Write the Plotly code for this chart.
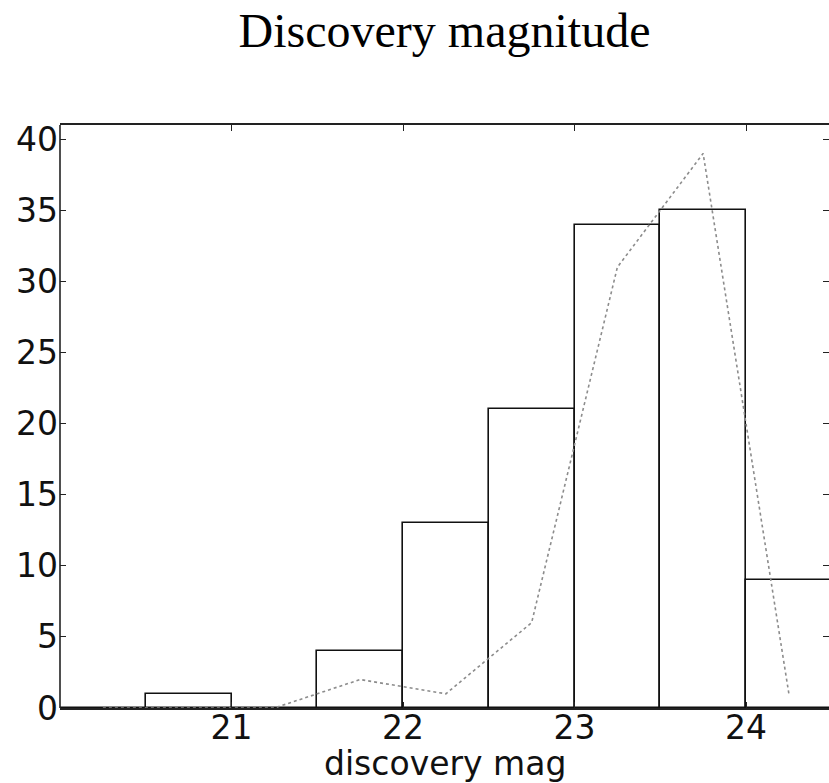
import plotly.graph_objects as go

# Histogram of discovery magnitudes (bins of 0.5 mag)
bin_left = [20.0, 20.5, 21.0, 21.5, 22.0, 22.5, 23.0, 23.5, 24.0]
counts = [0, 1, 0, 4, 13, 21, 34, 35, 9]

# Comparison curve evaluated at bin centres
curve_x = [20.25, 20.75, 21.25, 21.75, 22.25, 22.75, 23.25, 23.75, 24.25]
curve_y = [0, 0, 0, 2, 1, 6, 31, 39, 1]

x_ticks = [21, 22, 23, 24]
y_ticks = [0, 5, 10, 15, 20, 25, 30, 35, 40]

bin_width = 0.5
centres = [b + bin_width / 2 for b in bin_left]

W, H = 829, 783
M_L, M_R, M_T, M_B = 60, 0, 125, 75
plot_h = H - M_T - M_B

fig = go.Figure()
fig.add_trace(go.Bar(
    x=centres, y=counts, width=bin_width,
    marker=dict(color="white", line=dict(color="#111111", width=1.6)),
    showlegend=False, hoverinfo="skip",
))
fig.add_trace(go.Scatter(
    x=curve_x, y=curve_y, mode="lines",
    line=dict(color="#8c8c8c", width=1.6, dash="dot"),
    showlegend=False, hoverinfo="skip",
))

tick_font = dict(family="DejaVu Sans", size=33, color="#111111")
axis_col = "#222222"

fig.update_layout(
    width=W, height=H,
    margin=dict(l=M_L, r=M_R, t=M_T, b=M_B),
    paper_bgcolor="white", plot_bgcolor="white",
    bargap=0,
    title=dict(
        text="Discovery magnitude",
        font=dict(family="Liberation Serif", size=48, color="black"),
        x=0.5, xref="paper", xanchor="center",
        y=1 - 30 / H, yref="container", yanchor="middle",
    ),
    xaxis=dict(
        range=[20, 20 + 769 / 171.5],
        tickmode="array", tickvals=x_ticks,
        ticktext=[str(t) for t in x_ticks],
        ticks="inside", ticklen=6, tickwidth=1.3, tickcolor=axis_col,
        showline=True, linecolor=axis_col, linewidth=1.6, mirror="ticks",
        showgrid=False, zeroline=False,
        tickfont=tick_font, ticklabelstandoff=-10,
    ),
    yaxis=dict(
        range=[0, 41],
        tickmode="array", tickvals=y_ticks,
        ticktext=[str(t) for t in y_ticks],
        ticks="inside", ticklen=6, tickwidth=1.3, tickcolor=axis_col,
        showline=False, mirror="ticks",
        showgrid=False, zeroline=False,
        tickfont=tick_font, ticklabelstandoff=1,
    ),
    shapes=[dict(
        type="line", xref="paper", yref="paper",
        x0=0, x1=0, y0=0, y1=1,
        line=dict(color=axis_col, width=1.6),
    )],
    annotations=[dict(
        text="discovery mag", font=tick_font,
        xref="paper", yref="paper",
        x=0.5, y=-(763 - (H - M_B)) / plot_h,
        xanchor="center", yanchor="middle", showarrow=False,
    )],
)

fig.write_html("out.html")
